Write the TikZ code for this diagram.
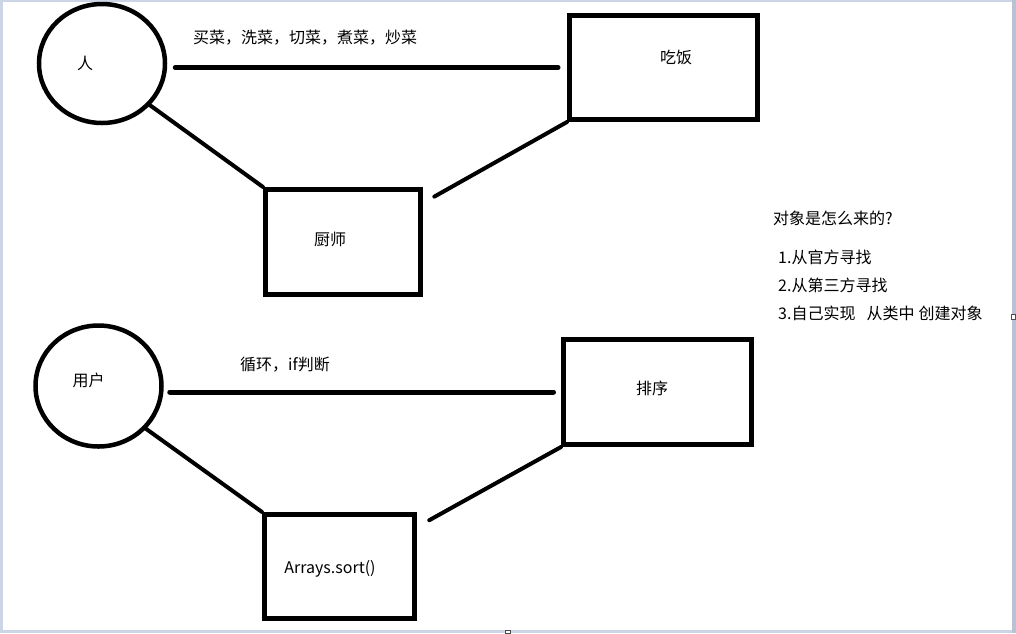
\documentclass[tikz,border=0pt]{standalone}
\usepackage{fontspec}
\setmainfont{Noto Sans CJK SC}
\usetikzlibrary{shapes.geometric, positioning}
\definecolor{paneledge}{HTML}{CCD5E5}
\definecolor{paneldark}{HTML}{B8C2D4}
\tikzset{
  actor/.style={draw, ellipse, line width=4.5pt, inner sep=0pt},
  task/.style={draw, rectangle, line width=5pt, inner sep=0pt},
  link/.style={line width=5pt, line cap=round},
  slant/.style={line width=4pt, line cap=round},
  txt/.style={inner sep=0pt, font=\fontsize{16}{19}\selectfont},
}

\begin{document}
\begin{tikzpicture}[x=1pt, y=-1pt]
  \useasboundingbox (0,0) rectangle (1016,633);
  % window frame
  \fill[paneledge] (0,0) rectangle (1016,633);
  \fill[paneldark] (1012,0) rectangle (1016,633);
  \fill[white] (3,2) rectangle (1012,630);
  \filldraw[fill=white, draw=black!70, line width=0.8pt] (1011.5,314.5) rectangle (1015.5,319.5);
  \filldraw[fill=white, draw=black!70, line width=0.8pt] (505,630.5) rectangle (510,633);

  % upper group
  \node[actor, minimum width=126, minimum height=119] (ren) at (102,63.5) {};
  \node[task, minimum width=188, minimum height=104] (eat) at (663.5,67.5) {};
  \node[task, minimum width=155, minimum height=105] (chef) at (343,242) {};
  \node[txt] (renlbl) at (85,63) {人};
  \node[txt] (eatlbl) at (676,57) {吃饭};
  \node[txt] (cheflbl) at (330,239) {厨师};
  \node[txt] (steps) at (305,38) {买菜，洗菜，切菜，煮菜，炒菜};
  \draw[link, shorten <=8, shorten >=9] (ren.east |- eat.west) -- (eat.west);
  \draw[slant] (ren.-41) -- (chef.north west);
  \draw[slant, shorten >=13] (eat.south west) -- (chef.26);

  % lower group
  \node[actor, minimum width=126, minimum height=121] (user) at (98.5,386) {};
  \node[task, minimum width=188, minimum height=105] (sort) at (657.5,392) {};
  \node[task, minimum width=150, minimum height=104] (arrays) at (339.5,566.5) {};
  \node[txt] (userlbl) at (88.5,380) {用户};
  \node[txt] (sortlbl) at (652,388) {排序};
  \node[txt] (arrayslbl) at (330,569) {Arrays.sort()};
  \node[txt] (loop) at (285,365) {循环，if判断};
  \draw[link, shorten <=6, shorten >=7.5] (user.east |- sort.west) -- (sort.west);
  \draw[slant] (user.-42) -- (arrays.north west);
  \draw[slant, shorten >=14] (sort.south west) -- (arrays.27);

  % notes
  \node[txt, anchor=west] (q) at (773,218) {对象是怎么来的?};
  \node[txt, anchor=west] (a1) at (778,257) {1.从官方寻找};
  \node[txt, anchor=west] (a2) at (778,285) {2.从第三方寻找};
  \node[txt, anchor=west] (a3) at (778,313) {3.自己实现\hspace{0.7em}从类中\hspace{0.25em}创建对象};
\end{tikzpicture}
\end{document}
